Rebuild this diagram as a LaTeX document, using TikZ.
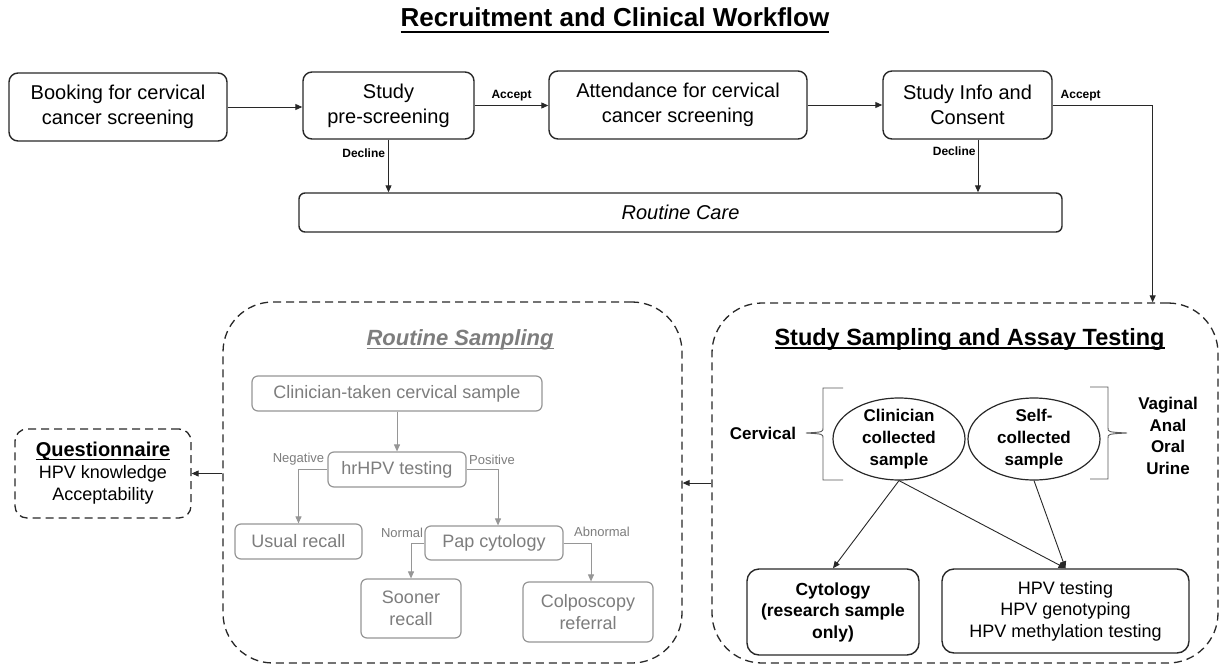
\documentclass[tikz,border=0pt]{standalone}
\usepackage{fontspec}
\setmainfont{Liberation Sans}
\usetikzlibrary{arrows.meta,calc,shapes.geometric}
\newcommand{\myfs}[2]{\fontsize{#1}{#2}\selectfont}
\newcommand{\myul}[3]{\leavevmode\setbox0=\hbox{#3}\rlap{\copy0}\rule[-#1]{\wd0}{#2}}
\definecolor{rsg}{RGB}{125,125,125}
\definecolor{rsb}{RGB}{150,150,150}
\definecolor{lnc}{RGB}{40,40,40}
\begin{document}
\begin{tikzpicture}[x=1pt,y=-1pt,
  box/.style={draw=lnc, line width=1.4pt, rounded corners=9pt, align=center, inner sep=0pt, font=\myfs{20}{25}},
  gbox/.style={draw=rsb, text=rsg, line width=1.2pt, rounded corners=6pt, align=center, inner sep=0pt, font=\myfs{18}{22.5}},
  dbox/.style={draw=lnc, dash pattern=on 8pt off 5pt, line width=1.3pt, inner sep=0pt},
  arr/.style={-{Triangle[length=7pt,width=6pt]}, line width=0.9pt, draw=lnc},
  garr/.style={-{Triangle[length=7pt,width=6pt]}, line width=0.9pt, draw=rsb},
  lab/.style={font=\bfseries\myfs{12}{14}, inner sep=0pt},
  glab/.style={font=\myfs{13}{15}, text=rsg, inner sep=0pt},
  brk/.style={draw=black!65, line width=0.9pt},
]
\fill[white] (0,0) rectangle (1220,666);
\useasboundingbox (0,0) rectangle (1220,666);

% title
\node[anchor=base, inner sep=0pt, font=\bfseries\myfs{26}{30}] (title) at (615,27) {\myul{6pt}{1.8pt}{Recruitment and Clinical Workflow}};

% top row
\node[box, minimum width=218pt, minimum height=68pt] (book) at (118,107) {Booking for cervical\\cancer screening};
\node[box, minimum width=171pt, minimum height=67pt] (pre) at (388.5,105.5) {Study\\pre-screening};
\node[box, minimum width=258pt, minimum height=68pt] (att) at (678,105) {Attendance for cervical\\cancer screening};
\node[box, minimum width=169pt, minimum height=68pt] (cons) at (967.5,105) {Study Info and\\Consent};
\node[box, rounded corners=6pt, minimum width=763pt, minimum height=39pt, font=\itshape\myfs{20}{25}] (rc) at (680.5,212.5) {Routine Care};

\draw[arr] (book.east) -- (book.east -| pre.west);
\draw[arr] (pre.east) -- (pre.east -| att.west) node[lab, midway, above=4pt] {Accept};
\draw[arr] (att.east) -- (att.east -| cons.west);
\draw[arr] (pre.south) -- (pre.south |- rc.north) node[lab, pos=0.26, left=3pt] {Decline};
\draw[arr] ([xshift=10.5pt]cons.south) -- ([xshift=10.5pt]cons.south |- rc.north) node[lab, pos=0.22, left=2pt] {Decline};

% bottom containers
\node[dbox, rounded corners=50pt, minimum width=459pt, minimum height=361pt] (rs) at (452.5,482.5) {};
\node[dbox, rounded corners=50pt, minimum width=506pt, minimum height=360pt] (ss) at (965,483) {};
\node[dbox, rounded corners=12pt, minimum width=176pt, minimum height=89pt, align=center, font=\myfs{18}{22}] (q) at (103,473.5) {{\bfseries\myfs{20}{24}\myul{3pt}{1.3pt}{Questionnaire}}\\HPV knowledge\\Acceptability};

\coordinate (ssin) at ($(ss.north east)+(-66,0)$);
\draw[arr] (cons.east) -| (ssin) node[lab, pos=0.14, above=4pt] {Accept};
\draw[arr] (q.east -| rs.west) -- (q.east);
\draw[arr] (ss.west) -- (ss.west -| rs.east);

% routine sampling
\node[anchor=base, inner sep=0pt, text=rsg, font=\bfseries\itshape\myfs{22}{26}] (rst) at (460,345) {\myul{4pt}{1.5pt}{Routine Sampling}};
\node[gbox, minimum width=290pt, minimum height=35pt] (cts) at (397,393.5) {Clinician-taken cervical sample};
\node[gbox, minimum width=138pt, minimum height=35pt] (hr) at (397,469.5) {hrHPV testing};
\node[gbox, minimum width=127pt, minimum height=35pt] (ur) at (298.5,541.5) {Usual recall};
\node[gbox, minimum width=138pt, minimum height=34pt] (pap) at (494,543) {Pap cytology};
\node[gbox, minimum width=100pt, minimum height=59pt] (sr) at (411,608.5) {Sooner\\recall};
\node[gbox, minimum width=130pt, minimum height=60pt] (col) at (588,612) {Colposcopy\\referral};

\draw[garr] (cts.south) -- (hr.north);
\draw[garr] (hr.west) -| (ur.north) node[glab, pos=0.5, above=4pt] {Negative};
\draw[garr] (hr.east) -| ([xshift=4pt]pap.north) node[glab, pos=0.5, above=4pt, xshift=-6pt] {Positive};
\draw[garr] (pap.west) -| (sr.north) node[glab, pos=0.5, above=5pt, xshift=-9pt] {Normal};
\draw[garr] (pap.east) -| ([xshift=3pt]col.north) node[glab, pos=0.5, above=6pt, xshift=11pt] {Abnormal};

% study sampling
\node[anchor=base, inner sep=0pt, font=\bfseries\myfs{23.5}{27}] (sst) at (969.5,345) {\myul{4pt}{1.6pt}{Study Sampling and Assay Testing}};
\node[ellipse, draw=lnc, line width=1.2pt, minimum width=132pt, minimum height=82pt, inner sep=-6pt, align=center, font=\bfseries\myfs{17}{22}] (cl) at (899,439) {Clinician\\collected\\sample};
\node[ellipse, draw=lnc, line width=1.2pt, minimum width=132pt, minimum height=82pt, inner sep=-6pt, align=center, font=\bfseries\myfs{17}{22}] (sf) at (1034,439) {Self-\\collected\\sample};

\draw[brk] (843,388) -- (823,388) -- (823,428) .. controls (823,432) .. (806,433) .. controls (823,434) .. (823,438) -- (823,480) -- (843,480);
\draw[brk] (1090,387) -- (1108,387) -- (1108,428) .. controls (1108,432) .. (1127,433) .. controls (1108,434) .. (1108,438) -- (1108,479) -- (1090,479);
\node[font=\bfseries\myfs{17}{21}, inner sep=0pt] (cerv) at (763,433) {Cervical};
\node[font=\bfseries\myfs{17}{21.7}, inner sep=0pt, align=center] (oth) at (1168,436) {Vaginal\\Anal\\Oral\\Urine};

\node[box, rounded corners=12pt, minimum width=172pt, minimum height=86pt, font=\bfseries\myfs{17.5}{21.5}] (cyto) at (833,612) {Cytology\\(research sample\\only)};
\node[box, rounded corners=12pt, minimum width=247pt, minimum height=84pt, font=\myfs{18}{21.5}] (hpv) at (1065.5,611) {HPV testing\\HPV genotyping\\HPV methylation testing};

\draw[arr] (cl.south) -- (cyto.north);
\draw[arr] (cl.south) -- (hpv.north);
\draw[arr] (sf.south) -- (hpv.north);
\end{tikzpicture}
\end{document}
